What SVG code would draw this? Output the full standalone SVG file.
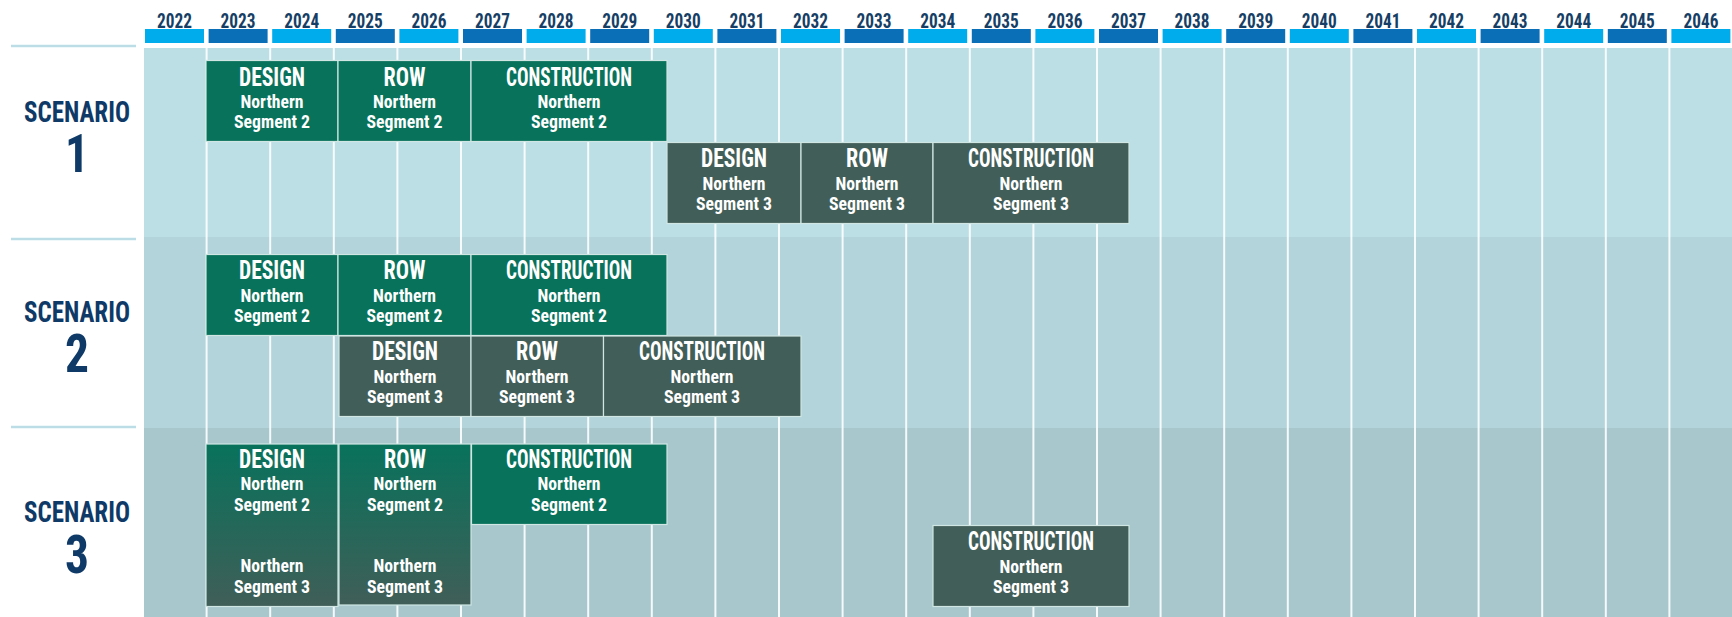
<svg xmlns="http://www.w3.org/2000/svg" width="1732" height="617" viewBox="0 0 1732 617">
<style>
text{font-family:"Liberation Sans Narrow","Roboto Condensed","DejaVu Sans Condensed","Liberation Sans",Arial,sans-serif;font-weight:bold;text-anchor:middle;font-stretch:condensed}
.yr{font-size:21px;fill:#173f66}
.sc{font-size:30px;fill:#0f3a68}
.dg{font-size:54px;fill:#0f3a68}
.t{font-size:25px;fill:#ffffff}
.s{font-size:18px;fill:#ffffff}
.bl{fill:#00acec}
.bd{fill:#0a6fb6}
.vl{stroke:#ffffff;stroke-width:2;opacity:0.9}
.sep{stroke:#bcdde6;stroke-width:2.5}
.g{fill:#08725b;stroke:#cfe6e3;stroke-width:1.2}
.k{fill:#425e58;stroke:#cfe6e3;stroke-width:1.2}
.m{fill:url(#grad);stroke:#cfe6e3;stroke-width:1.2}
</style>
<defs>
<linearGradient id="grad" x1="0" y1="0" x2="0" y2="1">
<stop offset="0" stop-color="#08725b"/>
<stop offset="1" stop-color="#405e58"/>
</linearGradient>
</defs>
<rect width="1732" height="617" fill="#ffffff"/>
<g id="bands">
<rect x="144" y="48" width="1588" height="189" fill="#bcdfe6"/>
<rect x="144" y="237" width="1588" height="191" fill="#b2d4da"/>
<rect x="144" y="428" width="1588" height="189" fill="#a7c7cd"/>
</g>
<g id="separators">
<line class="sep" x1="11" y1="46" x2="136" y2="46"/>
<line class="sep" x1="11" y1="239" x2="136" y2="239"/>
<line class="sep" x1="11" y1="427" x2="136" y2="427"/>
</g>
<g id="gridlines">
<line class="vl" x1="206.6" y1="48" x2="206.6" y2="617"/>
<line class="vl" x1="270.2" y1="48" x2="270.2" y2="617"/>
<line class="vl" x1="333.8" y1="48" x2="333.8" y2="617"/>
<line class="vl" x1="397.4" y1="48" x2="397.4" y2="617"/>
<line class="vl" x1="461" y1="48" x2="461" y2="617"/>
<line class="vl" x1="524.6" y1="48" x2="524.6" y2="617"/>
<line class="vl" x1="588.2" y1="48" x2="588.2" y2="617"/>
<line class="vl" x1="651.8" y1="48" x2="651.8" y2="617"/>
<line class="vl" x1="715.4" y1="48" x2="715.4" y2="617"/>
<line class="vl" x1="779" y1="48" x2="779" y2="617"/>
<line class="vl" x1="842.6" y1="48" x2="842.6" y2="617"/>
<line class="vl" x1="906.2" y1="48" x2="906.2" y2="617"/>
<line class="vl" x1="969.8" y1="48" x2="969.8" y2="617"/>
<line class="vl" x1="1033.4" y1="48" x2="1033.4" y2="617"/>
<line class="vl" x1="1097" y1="48" x2="1097" y2="617"/>
<line class="vl" x1="1160.6" y1="48" x2="1160.6" y2="617"/>
<line class="vl" x1="1224.2" y1="48" x2="1224.2" y2="617"/>
<line class="vl" x1="1287.8" y1="48" x2="1287.8" y2="617"/>
<line class="vl" x1="1351.4" y1="48" x2="1351.4" y2="617"/>
<line class="vl" x1="1415" y1="48" x2="1415" y2="617"/>
<line class="vl" x1="1478.6" y1="48" x2="1478.6" y2="617"/>
<line class="vl" x1="1542.2" y1="48" x2="1542.2" y2="617"/>
<line class="vl" x1="1605.8" y1="48" x2="1605.8" y2="617"/>
<line class="vl" x1="1669.4" y1="48" x2="1669.4" y2="617"/>
</g>
<g id="years">
<rect class="bl" x="145" y="29" width="59" height="14"/><text class="yr" x="174.5" y="28" textLength="35" lengthAdjust="spacingAndGlyphs">2022</text>
<rect class="bd" x="208.6" y="29" width="59" height="14"/><text class="yr" x="238.1" y="28" textLength="35" lengthAdjust="spacingAndGlyphs">2023</text>
<rect class="bl" x="272.2" y="29" width="59" height="14"/><text class="yr" x="301.7" y="28" textLength="35" lengthAdjust="spacingAndGlyphs">2024</text>
<rect class="bd" x="335.8" y="29" width="59" height="14"/><text class="yr" x="365.3" y="28" textLength="35" lengthAdjust="spacingAndGlyphs">2025</text>
<rect class="bl" x="399.4" y="29" width="59" height="14"/><text class="yr" x="428.9" y="28" textLength="35" lengthAdjust="spacingAndGlyphs">2026</text>
<rect class="bd" x="463" y="29" width="59" height="14"/><text class="yr" x="492.5" y="28" textLength="35" lengthAdjust="spacingAndGlyphs">2027</text>
<rect class="bl" x="526.6" y="29" width="59" height="14"/><text class="yr" x="556.1" y="28" textLength="35" lengthAdjust="spacingAndGlyphs">2028</text>
<rect class="bd" x="590.2" y="29" width="59" height="14"/><text class="yr" x="619.7" y="28" textLength="35" lengthAdjust="spacingAndGlyphs">2029</text>
<rect class="bl" x="653.8" y="29" width="59" height="14"/><text class="yr" x="683.3" y="28" textLength="35" lengthAdjust="spacingAndGlyphs">2030</text>
<rect class="bd" x="717.4" y="29" width="59" height="14"/><text class="yr" x="746.9" y="28" textLength="35" lengthAdjust="spacingAndGlyphs">2031</text>
<rect class="bl" x="781" y="29" width="59" height="14"/><text class="yr" x="810.5" y="28" textLength="35" lengthAdjust="spacingAndGlyphs">2032</text>
<rect class="bd" x="844.6" y="29" width="59" height="14"/><text class="yr" x="874.1" y="28" textLength="35" lengthAdjust="spacingAndGlyphs">2033</text>
<rect class="bl" x="908.2" y="29" width="59" height="14"/><text class="yr" x="937.7" y="28" textLength="35" lengthAdjust="spacingAndGlyphs">2034</text>
<rect class="bd" x="971.8" y="29" width="59" height="14"/><text class="yr" x="1001.3" y="28" textLength="35" lengthAdjust="spacingAndGlyphs">2035</text>
<rect class="bl" x="1035.4" y="29" width="59" height="14"/><text class="yr" x="1064.9" y="28" textLength="35" lengthAdjust="spacingAndGlyphs">2036</text>
<rect class="bd" x="1099" y="29" width="59" height="14"/><text class="yr" x="1128.5" y="28" textLength="35" lengthAdjust="spacingAndGlyphs">2037</text>
<rect class="bl" x="1162.6" y="29" width="59" height="14"/><text class="yr" x="1192.1" y="28" textLength="35" lengthAdjust="spacingAndGlyphs">2038</text>
<rect class="bd" x="1226.2" y="29" width="59" height="14"/><text class="yr" x="1255.7" y="28" textLength="35" lengthAdjust="spacingAndGlyphs">2039</text>
<rect class="bl" x="1289.8" y="29" width="59" height="14"/><text class="yr" x="1319.3" y="28" textLength="35" lengthAdjust="spacingAndGlyphs">2040</text>
<rect class="bd" x="1353.4" y="29" width="59" height="14"/><text class="yr" x="1382.9" y="28" textLength="35" lengthAdjust="spacingAndGlyphs">2041</text>
<rect class="bl" x="1417" y="29" width="59" height="14"/><text class="yr" x="1446.5" y="28" textLength="35" lengthAdjust="spacingAndGlyphs">2042</text>
<rect class="bd" x="1480.6" y="29" width="59" height="14"/><text class="yr" x="1510.1" y="28" textLength="35" lengthAdjust="spacingAndGlyphs">2043</text>
<rect class="bl" x="1544.2" y="29" width="59" height="14"/><text class="yr" x="1573.7" y="28" textLength="35" lengthAdjust="spacingAndGlyphs">2044</text>
<rect class="bd" x="1607.8" y="29" width="59" height="14"/><text class="yr" x="1637.3" y="28" textLength="35" lengthAdjust="spacingAndGlyphs">2045</text>
<rect class="bl" x="1671.4" y="29" width="59" height="14"/><text class="yr" x="1700.9" y="28" textLength="35" lengthAdjust="spacingAndGlyphs">2046</text>
</g>
<g id="scenario-labels">
<text class="sc" x="77" y="122" textLength="106" lengthAdjust="spacingAndGlyphs">SCENARIO</text>
<text class="dg" x="77" y="172" textLength="24" lengthAdjust="spacingAndGlyphs">1</text>
<text class="sc" x="77" y="322" textLength="106" lengthAdjust="spacingAndGlyphs">SCENARIO</text>
<text class="dg" x="77" y="372" textLength="24" lengthAdjust="spacingAndGlyphs">2</text>
<text class="sc" x="77" y="522" textLength="106" lengthAdjust="spacingAndGlyphs">SCENARIO</text>
<text class="dg" x="77" y="573" textLength="24" lengthAdjust="spacingAndGlyphs">3</text>
</g>
<!-- Scenario 1 -->
<g id="s1-design-seg2"><rect class="g" x="206" y="60.5" width="132" height="81"/>
<text class="t" x="272" y="86" textLength="66" lengthAdjust="spacingAndGlyphs">DESIGN</text>
<text class="s" x="272" y="108" textLength="63" lengthAdjust="spacingAndGlyphs">Northern</text>
<text class="s" x="272" y="128" textLength="76" lengthAdjust="spacingAndGlyphs">Segment 2</text></g>
<g id="s1-row-seg2"><rect class="g" x="338" y="60.5" width="133" height="81"/>
<text class="t" x="404.5" y="86" textLength="42" lengthAdjust="spacingAndGlyphs">ROW</text>
<text class="s" x="404.5" y="108" textLength="63" lengthAdjust="spacingAndGlyphs">Northern</text>
<text class="s" x="404.5" y="128" textLength="76" lengthAdjust="spacingAndGlyphs">Segment 2</text></g>
<g id="s1-construction-seg2"><rect class="g" x="471" y="60.5" width="196" height="81"/>
<text class="t" x="569" y="86" textLength="126" lengthAdjust="spacingAndGlyphs">CONSTRUCTION</text>
<text class="s" x="569" y="108" textLength="63" lengthAdjust="spacingAndGlyphs">Northern</text>
<text class="s" x="569" y="128" textLength="76" lengthAdjust="spacingAndGlyphs">Segment 2</text></g>
<g id="s1-design-seg3"><rect class="k" x="667" y="142.5" width="134" height="81"/>
<text class="t" x="734" y="167" textLength="66" lengthAdjust="spacingAndGlyphs">DESIGN</text>
<text class="s" x="734" y="190" textLength="63" lengthAdjust="spacingAndGlyphs">Northern</text>
<text class="s" x="734" y="210" textLength="76" lengthAdjust="spacingAndGlyphs">Segment 3</text></g>
<g id="s1-row-seg3"><rect class="k" x="801" y="142.5" width="132" height="81"/>
<text class="t" x="867" y="167" textLength="42" lengthAdjust="spacingAndGlyphs">ROW</text>
<text class="s" x="867" y="190" textLength="63" lengthAdjust="spacingAndGlyphs">Northern</text>
<text class="s" x="867" y="210" textLength="76" lengthAdjust="spacingAndGlyphs">Segment 3</text></g>
<g id="s1-construction-seg3"><rect class="k" x="933" y="142.5" width="196" height="81"/>
<text class="t" x="1031" y="167" textLength="126" lengthAdjust="spacingAndGlyphs">CONSTRUCTION</text>
<text class="s" x="1031" y="190" textLength="63" lengthAdjust="spacingAndGlyphs">Northern</text>
<text class="s" x="1031" y="210" textLength="76" lengthAdjust="spacingAndGlyphs">Segment 3</text></g>
<!-- Scenario 2 -->
<g id="s2-design-seg2"><rect class="g" x="206" y="254.5" width="132" height="81"/>
<text class="t" x="272" y="279" textLength="66" lengthAdjust="spacingAndGlyphs">DESIGN</text>
<text class="s" x="272" y="302" textLength="63" lengthAdjust="spacingAndGlyphs">Northern</text>
<text class="s" x="272" y="322" textLength="76" lengthAdjust="spacingAndGlyphs">Segment 2</text></g>
<g id="s2-row-seg2"><rect class="g" x="338" y="254.5" width="133" height="81"/>
<text class="t" x="404.5" y="279" textLength="42" lengthAdjust="spacingAndGlyphs">ROW</text>
<text class="s" x="404.5" y="302" textLength="63" lengthAdjust="spacingAndGlyphs">Northern</text>
<text class="s" x="404.5" y="322" textLength="76" lengthAdjust="spacingAndGlyphs">Segment 2</text></g>
<g id="s2-construction-seg2"><rect class="g" x="471" y="254.5" width="196" height="81"/>
<text class="t" x="569" y="279" textLength="126" lengthAdjust="spacingAndGlyphs">CONSTRUCTION</text>
<text class="s" x="569" y="302" textLength="63" lengthAdjust="spacingAndGlyphs">Northern</text>
<text class="s" x="569" y="322" textLength="76" lengthAdjust="spacingAndGlyphs">Segment 2</text></g>
<g id="s2-design-seg3"><rect class="k" x="339" y="336" width="132" height="80.5"/>
<text class="t" x="405" y="360" textLength="66" lengthAdjust="spacingAndGlyphs">DESIGN</text>
<text class="s" x="405" y="383" textLength="63" lengthAdjust="spacingAndGlyphs">Northern</text>
<text class="s" x="405" y="403" textLength="76" lengthAdjust="spacingAndGlyphs">Segment 3</text></g>
<g id="s2-row-seg3"><rect class="k" x="471" y="336" width="132.5" height="80.5"/>
<text class="t" x="537" y="360" textLength="42" lengthAdjust="spacingAndGlyphs">ROW</text>
<text class="s" x="537" y="383" textLength="63" lengthAdjust="spacingAndGlyphs">Northern</text>
<text class="s" x="537" y="403" textLength="76" lengthAdjust="spacingAndGlyphs">Segment 3</text></g>
<g id="s2-construction-seg3"><rect class="k" x="603.5" y="336" width="197.5" height="80.5"/>
<text class="t" x="702" y="360" textLength="126" lengthAdjust="spacingAndGlyphs">CONSTRUCTION</text>
<text class="s" x="702" y="383" textLength="63" lengthAdjust="spacingAndGlyphs">Northern</text>
<text class="s" x="702" y="403" textLength="76" lengthAdjust="spacingAndGlyphs">Segment 3</text></g>
<!-- Scenario 3 -->
<g id="s3-design-seg2-seg3"><rect class="m" x="206" y="444" width="132" height="162.5"/>
<text class="t" x="272" y="468" textLength="66" lengthAdjust="spacingAndGlyphs">DESIGN</text>
<text class="s" x="272" y="490" textLength="63" lengthAdjust="spacingAndGlyphs">Northern</text>
<text class="s" x="272" y="511" textLength="76" lengthAdjust="spacingAndGlyphs">Segment 2</text>
<text class="s" x="272" y="572" textLength="63" lengthAdjust="spacingAndGlyphs">Northern</text>
<text class="s" x="272" y="593" textLength="76" lengthAdjust="spacingAndGlyphs">Segment 3</text></g>
<g id="s3-row-seg2-seg3"><rect class="m" x="339" y="444" width="132" height="161"/>
<text class="t" x="405" y="468" textLength="42" lengthAdjust="spacingAndGlyphs">ROW</text>
<text class="s" x="405" y="490" textLength="63" lengthAdjust="spacingAndGlyphs">Northern</text>
<text class="s" x="405" y="511" textLength="76" lengthAdjust="spacingAndGlyphs">Segment 2</text>
<text class="s" x="405" y="572" textLength="63" lengthAdjust="spacingAndGlyphs">Northern</text>
<text class="s" x="405" y="593" textLength="76" lengthAdjust="spacingAndGlyphs">Segment 3</text></g>
<g id="s3-construction-seg2"><rect class="g" x="471.5" y="444" width="195.5" height="80.5"/>
<text class="t" x="569" y="468" textLength="126" lengthAdjust="spacingAndGlyphs">CONSTRUCTION</text>
<text class="s" x="569" y="490" textLength="63" lengthAdjust="spacingAndGlyphs">Northern</text>
<text class="s" x="569" y="511" textLength="76" lengthAdjust="spacingAndGlyphs">Segment 2</text></g>
<g id="s3-construction-seg3"><rect class="k" x="933" y="525.5" width="196" height="81"/>
<text class="t" x="1031" y="550" textLength="126" lengthAdjust="spacingAndGlyphs">CONSTRUCTION</text>
<text class="s" x="1031" y="573" textLength="63" lengthAdjust="spacingAndGlyphs">Northern</text>
<text class="s" x="1031" y="593" textLength="76" lengthAdjust="spacingAndGlyphs">Segment 3</text></g>
</svg>
